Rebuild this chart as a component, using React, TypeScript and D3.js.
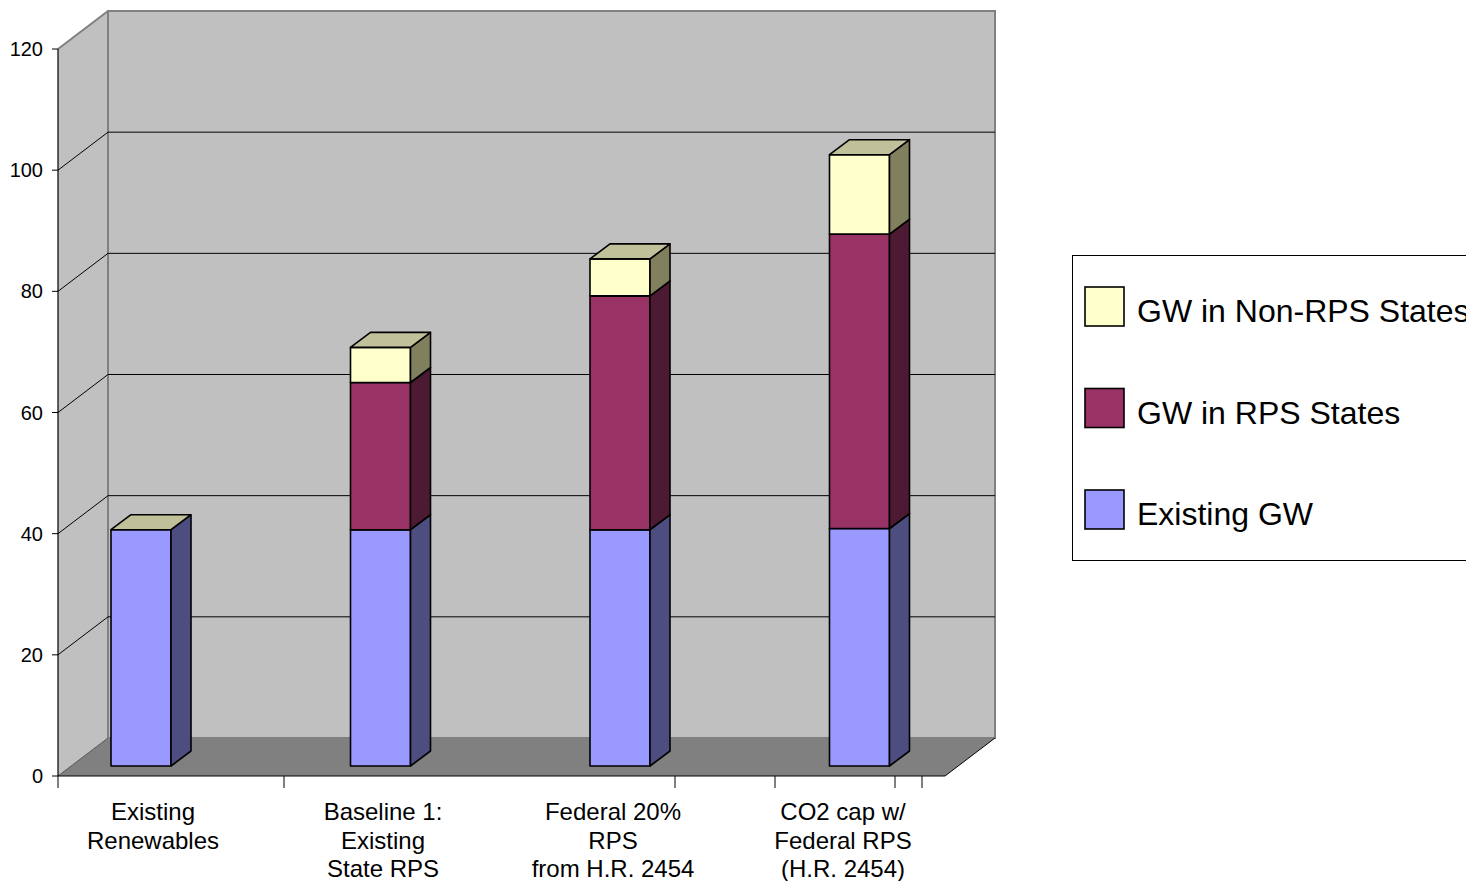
import React from "react";
import * as d3 from "d3";

const categories: string[][] = [
  ["Existing", "Renewables"],
  ["Baseline 1:", "Existing", "State RPS"],
  ["Federal 20%", "RPS", "from H.R. 2454"],
  ["CO2 cap w/", "Federal RPS", "(H.R. 2454)"],
];
const existingGW = [39, 39, 39, 39.2];
const rpsGW = [0, 24.3, 38.6, 48.6];
const nonRpsGW = [0, 5.8, 6.1, 13.1];
const yTicks = [0, 20, 40, 60, 80, 100, 120];

const seriesNames = ["Existing GW", "GW in RPS States", "GW in Non-RPS States"];
const seriesFront = ["#9999ff", "#993366", "#ffffcc"];
const seriesSide = ["#4d4d80", "#4d1a33", "#80805f"];
const topFace = "#c0c09a";

const W = 1466;
const H = 881;
// front plane
const x0 = 58;
const x1 = 945;
const yBase = 776;
const yTop = 49;
// wall depth
const DX = 50;
const DY = -38;
// bar placement in depth
const barOffY = -10;
const barDX = 20;
const barDY = -15;
const barW = 60;
const xTickPos = [58, 284, 675, 775, 895, 922];

export default function App() {
  const y = d3.scaleLinear().domain([0, 120]).range([yBase, yTop]);
  const barX = d3
    .scalePoint<number>()
    .domain(d3.range(categories.length))
    .range([141, 859.5]);
  const labelX = d3
    .scalePoint<number>()
    .domain(d3.range(categories.length))
    .range([153, 843]);

  const poly = (pts: [number, number][]) => pts.map((p) => p.join(",")).join(" ");

  const segments: JSX.Element[] = [];
  categories.forEach((_, i) => {
    const vals = [existingGW[i], rpsGW[i], nonRpsGW[i]];
    let acc = 0;
    const left = (barX(i) as number) - barW / 2;
    vals.forEach((v, s) => {
      if (v <= 0) return;
      const yb = y(acc) + barOffY;
      const yt = y(acc + v) + barOffY;
      acc += v;
      const l = left;
      const r = left + barW;
      segments.push(
        <g key={`b${i}-${s}`} stroke="#000" strokeWidth={1.6} strokeLinejoin="round">
          <rect x={l} y={yt} width={barW} height={yb - yt} fill={seriesFront[s]} />
          <polygon
            points={poly([
              [r, yt],
              [r + barDX, yt + barDY],
              [r + barDX, yb + barDY],
              [r, yb],
            ])}
            fill={seriesSide[s]}
          />
          <polygon
            points={poly([
              [l, yt],
              [l + barDX, yt + barDY],
              [r + barDX, yt + barDY],
              [r, yt],
            ])}
            fill={topFace}
          />
        </g>
      );
    });
  });

  return (
    <svg
      width={W}
      height={H}
      style={{ position: "absolute", left: 0, top: 0, background: "#fff" }}
      fontFamily="'Liberation Sans', Arial, sans-serif"
    >
      {/* side wall */}
      <polygon
        points={poly([
          [x0, yTop],
          [x0 + DX, yTop + DY],
          [x0 + DX, yBase + DY],
          [x0, yBase],
        ])}
        fill="#c0c0c0"
      />
      {/* back wall */}
      <rect
        x={x0 + DX}
        y={yTop + DY}
        width={x1 - x0}
        height={yBase - yTop}
        fill="#c0c0c0"
        stroke="#808080"
        strokeWidth={2}
      />
      {/* gridlines */}
      {yTicks
        .filter((t) => t > 0 && t < 120)
        .map((t) => (
          <g key={`g${t}`} stroke="#000" strokeWidth={1}>
            <line x1={x0} y1={y(t)} x2={x0 + DX} y2={y(t) + DY} />
            <line x1={x0 + DX} y1={y(t) + DY} x2={x1 + DX} y2={y(t) + DY} />
          </g>
        ))}
      <line
        x1={x0}
        y1={yTop}
        x2={x0 + DX}
        y2={yTop + DY}
        stroke="#808080"
        strokeWidth={2}
      />
      {/* floor */}
      <polygon
        points={poly([
          [x0, yBase],
          [x1, yBase],
          [x1 + DX, yBase + DY],
          [x0 + DX, yBase + DY],
        ])}
        fill="#808080"
      />
      <line x1={x0} y1={yBase} x2={x0 + DX} y2={yBase + DY} stroke="#555" strokeWidth={1} />
      <line x1={x1} y1={yBase} x2={x1 + DX} y2={yBase + DY} stroke="#000" strokeWidth={1} />
      {/* y axis */}
      <line x1={x0} y1={yTop} x2={x0} y2={yBase} stroke="#000" strokeWidth={1.2} />
      {yTicks.map((t) => (
        <g key={`t${t}`}>
          <line x1={x0 - 6} y1={y(t)} x2={x0} y2={y(t)} stroke="#000" strokeWidth={1} />
          <text x={x0 - 15} y={y(t) + 7} textAnchor="end" fontSize={20} fill="#000">
            {t}
          </text>
        </g>
      ))}
      {/* x axis */}
      <line x1={x0} y1={yBase} x2={x1} y2={yBase} stroke="#000" strokeWidth={1.2} />
      {xTickPos.map((b) => (
        <line key={`xb${b}`} x1={b} y1={yBase} x2={b} y2={yBase + 12} stroke="#000" strokeWidth={1} />
      ))}
      {categories.map((lines, i) => (
        <text
          key={`c${i}`}
          x={labelX(i)}
          y={820}
          textAnchor="middle"
          fontSize={24}
          fill="#000"
        >
          {lines.map((ln, k) => (
            <tspan key={k} x={labelX(i)} dy={k === 0 ? 0 : 28.5}>
              {ln}
            </tspan>
          ))}
        </text>
      ))}
      {/* bars */}
      {segments}
      {/* legend */}
      <rect x={1072.5} y={255.5} width={420} height={305} fill="#fff" stroke="#000" strokeWidth={1} />
      {[2, 1, 0].map((s, k) => (
        <g key={`l${s}`}>
          <rect
            x={1085}
            y={287 + k * 101.5}
            width={39}
            height={39}
            fill={seriesFront[s]}
            stroke="#000"
            strokeWidth={1.6}
          />
          <text x={1137} y={322 + k * 101.5} fontSize={32} fill="#000">
            {seriesNames[s]}
          </text>
        </g>
      ))}
    </svg>
  );
}
